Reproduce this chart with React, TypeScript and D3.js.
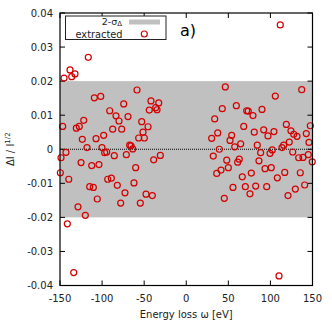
import React from "react";
import * as d3 from "d3";

const xTicks = [-150, -100, -50, 0, 50, 100, 150];
const yTicks = [-0.04, -0.03, -0.02, -0.01, 0, 0.01, 0.02, 0.03, 0.04];
const yTickLabels = ["-0.04", "-0.03", "-0.02", "-0.01", "0", "0.01", "0.02", "0.03", "0.04"];
const sigmaBand = [-0.02, 0.02];

const leftX = [-116.4, -138.1, -132.2, -136.1, -145.2, -109.2, -101.6, -58.5, -74.3, -41.9, -32.7, -90.9, -83.5, -43.9, -36.3, -34.7, -79.9, -69.2, -121.8, -146.8, -130.6, -127.1, -52.9, -45.4, -87.4, -76.7, -51.4, -98.1, -123.5, -107.2, -56.5, -49.8, -117.9, -100.1, -96.9, -94.5, -67.2, -65.6, -63.6, -148.8, -142.9, -85.5, -71.2, -30.8, -38.7, -125.0, -112.3, -103.7, -60.1, -149.6, -139.6, -93.3, -89.0, -81.9, -62.1, -114.7, -110.4, -72.8, -105.7, -47.8, -40.3, -77.9, -54.6, -128.6, -119.9, -141.3, -133.7];
const leftY = [0.027, 0.0233, 0.0221, 0.0213, 0.0209, 0.0151, 0.0155, 0.0174, 0.0133, 0.0142, 0.0136, 0.0113, 0.0098, 0.0115, 0.0122, 0.0116, 0.0083, 0.0096, 0.0085, 0.0067, 0.0062, 0.0067, 0.0081, 0.0066, 0.0059, 0.0059, 0.005, 0.0041, 0.0029, 0.0031, 0.0033, 0.0033, 0.0005, 0.0005, -0.001, -0.0008, 0.0012, 0.001, 0.0001, -0.0025, -0.0009, -0.0019, -0.0016, -0.0018, -0.0031, -0.0039, -0.0048, -0.0045, -0.0054, -0.0069, -0.0088, -0.0088, -0.0085, -0.0106, -0.0099, -0.011, -0.0112, -0.0128, -0.0146, -0.0132, -0.0136, -0.0158, -0.0158, -0.0169, -0.0194, -0.0219, -0.0362];

const rightX = [111.7, 46.4, 137.2, 105.8, 42.8, 59.5, 71.8, 73.7, 90.0, 79.3, 33.8, 68.3, 118.9, 147.4, 37.4, 30.2, 54.0, 52.0, 80.8, 92.0, 104.2, 97.1, 124.4, 127.7, 131.6, 142.6, 145.8, 122.4, 64.7, 57.6, 84.4, 115.8, 113.8, 39.3, 102.2, 88.4, 99.5, 126.5, 145.0, 138.7, 133.6, 149.7, 32.1, 48.1, 63.0, 61.1, 86.4, 36.2, 41.3, 50.0, 93.6, 101.0, 66.6, 77.3, 117.0, 135.5, 108.2, 55.5, 70.2, 82.5, 95.6, 75.7, 45.2, 129.6, 140.7, 120.9, 110.2];
const rightY = [0.0365, 0.0183, 0.0175, 0.0156, 0.0119, 0.0128, 0.0113, 0.0112, 0.0117, 0.0099, 0.0089, 0.0067, 0.0073, 0.0069, 0.0048, 0.0032, 0.0041, 0.0026, 0.005, 0.0057, 0.0052, 0.0039, 0.0054, 0.0044, 0.0038, 0.0046, 0.002, 0.0021, 0.0016, 0.0007, 0.0012, 0.0012, 0.0005, 0.0, -0.0002, -0.001, -0.0012, -0.0008, -0.0016, -0.0024, -0.0025, -0.0037, -0.002, -0.0032, -0.0029, -0.0038, -0.0034, -0.0071, -0.0061, -0.0054, -0.0057, -0.0054, -0.0081, -0.007, -0.0068, -0.0069, -0.0084, -0.0112, -0.011, -0.0108, -0.011, -0.0131, -0.0144, -0.0117, -0.0105, -0.0136, -0.0372];

const W = 332, H = 324;
const L = 60, R = 312.5, T = 13, B = 285.5;

export default function App() {
  const x = d3.scaleLinear().domain([-150, 150]).range([L, R]);
  const y = d3.scaleLinear().domain([-0.04, 0.04]).range([B, T]);
  const pts = [
    ...leftX.map((v, i) => [v, leftY[i]]),
    ...rightX.map((v, i) => [v, rightY[i]]),
  ];
  const font = "DejaVu Sans, sans-serif";
  const red = "#d40000";
  const tl = 5;
  return (
    <svg width={W} height={H} style={{ position: "absolute", left: 0, top: 0, background: "#fff" }} fontFamily={font}>
      <rect x={L} y={y(sigmaBand[1])} width={R - L} height={y(sigmaBand[0]) - y(sigmaBand[1])} fill="#c0c0c0" />
      <line x1={L} x2={R} y1={y(0)} y2={y(0)} stroke="#000" strokeWidth={1} strokeDasharray="1,1" />
      {xTicks.map((t) => (
        <g key={"x" + t}>
          <line x1={x(t)} x2={x(t)} y1={B} y2={B - tl} stroke="#000" />
          <line x1={x(t)} x2={x(t)} y1={T} y2={T + tl} stroke="#000" />
          <text x={x(t)} y={B + 16} fontSize={10} textAnchor="middle" fill="#222">{t}</text>
        </g>
      ))}
      {yTicks.map((t, i) => (
        <g key={"y" + i}>
          <line x1={L} x2={L + tl} y1={y(t)} y2={y(t)} stroke="#000" />
          <line x1={R} x2={R - tl} y1={y(t)} y2={y(t)} stroke="#000" />
          <text x={L - 7} y={y(t) + 3.5} fontSize={10} textAnchor="end" fill="#222">{yTickLabels[i]}</text>
        </g>
      ))}
      {pts.map((p, i) => (
        <circle key={i} cx={x(p[0])} cy={y(p[1])} r={3} fill="none" stroke={red} strokeWidth={1.2} />
      ))}
      <rect x={L} y={T} width={R - L} height={B - T} fill="none" stroke="#000" strokeWidth={1.2} />
      <g>
        <rect x={65.5} y={16} width={100.5} height={23.5} fill="#fff" stroke="#222" strokeWidth={1} />
        <text x={122} y={24.5} fontSize={9.5} textAnchor="end" fill="#222">2-σ<tspan fontSize={7} dy={1.5}>Δ</tspan></text>
        <rect x={129} y={19.5} width={31} height={5} fill="#c0c0c0" />
        <text x={122.5} y={37.5} fontSize={9.8} textAnchor="end" fill="#222">extracted</text>
        <circle cx={144.3} cy={34} r={3} fill="none" stroke={red} strokeWidth={1.2} />
      </g>
      <text x={180} y={36} fontSize={16} fill="#000">a)</text>
      <text x={(L + R) / 2} y={318} fontSize={10} textAnchor="middle" fill="#222">Energy loss ω [eV]</text>
      <text transform={`translate(14,${y(0)}) rotate(-90)`} fontSize={10} textAnchor="middle" fill="#222">ΔI / I<tspan fontSize={7} dy={-4}>1/2</tspan></text>
    </svg>
  );
}
